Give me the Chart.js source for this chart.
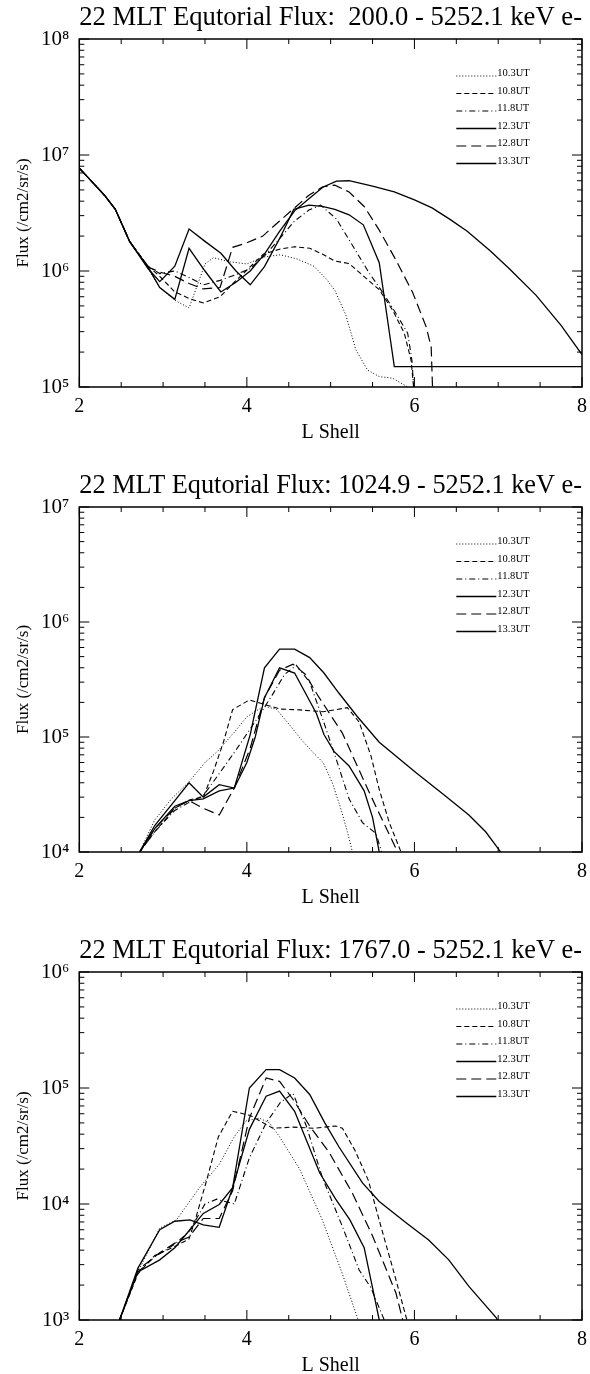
<!DOCTYPE html>
<html>
<head>
<meta charset="utf-8">
<script src="https://cdn.jsdelivr.net/npm/chart.js@4.4.1/dist/chart.umd.min.js"></script>
<style>
  html, body { margin: 0; padding: 0; background: #fff; overflow: hidden; }
  canvas { position: absolute; left: 0; }
</style>
</head>
<body>
<canvas id="c1" width="590" height="445" style="top:0px"></canvas>
<canvas id="c2" width="590" height="442" style="top:468px"></canvas>
<canvas id="c3" width="590" height="445" style="top:933px"></canvas>
<script>
// series labels (UT of each pass)
const seriesNames = ['10.3UT', '10.8UT', '11.8UT', '12.3UT', '12.8UT', '13.3UT'];

// tick labels
const xTickValues = [2, 4, 6, 8];
const p1YTicks = [1e5, 1e6, 1e7, 1e8];
const p2YTicks = [1e4, 1e5, 1e6, 1e7];
const p3YTicks = [1e3, 1e4, 1e5, 1e6];

// panel 1: 200.0 - 5252.1 keV, [L, flux]
const p1_103 = [[2.0,7.7e6],[2.15,5.9e6],[2.3,4.5e6],[2.43,3.4e6],[2.6,1.8e6],[2.82,1.05e6],[2.96,7.2e5],[3.14,5.6e5],[3.31,4.8e5],[3.5,1.15e6],[3.6,1.3e6],[3.8,1.2e6],[4.0,1.15e6],[4.2,1.32e6],[4.4,1.38e6],[4.6,1.27e6],[4.8,1.1e6],[4.95,8.5e5],[5.05,6.8e5],[5.18,4.2e5],[5.3,2.1e5],[5.44,1.4e5],[5.58,1.23e5],[5.74,1.19e5],[5.9,1.02e5],[6.0,9e4]];
const p1_108 = [[2.0,7.7e6],[2.15,5.9e6],[2.3,4.5e6],[2.43,3.4e6],[2.6,1.8e6],[2.82,1.1e6],[2.96,9.0e5],[3.14,6.6e5],[3.31,5.8e5],[3.48,5.3e5],[3.68,6.0e5],[3.85,8.0e5],[4.0,1.02e6],[4.2,1.4e6],[4.4,1.55e6],[4.57,1.62e6],[4.75,1.57e6],[4.9,1.4e6],[5.05,1.22e6],[5.22,1.16e6],[5.38,9.2e5],[5.58,6.9e5],[5.74,4.6e5],[5.88,2.9e5],[5.96,1.7e5],[5.99,1.0e5],[6.0,8e4]];
const p1_118 = [[2.0,7.7e6],[2.15,5.9e6],[2.3,4.5e6],[2.43,3.4e6],[2.6,1.8e6],[2.82,1.1e6],[2.96,9.5e5],[3.14,1.0e6],[3.31,8.8e5],[3.48,7.6e5],[3.68,8.3e5],[3.87,9.3e5],[4.04,1.05e6],[4.21,1.35e6],[4.39,1.9e6],[4.57,2.7e6],[4.74,3.35e6],[4.88,3.7e6],[5.07,2.8e6],[5.27,1.62e6],[5.46,9.6e5],[5.63,6.4e5],[5.78,4.3e5],[5.92,2.9e5],[5.97,1.7e5],[6.0,8e4]];
const p1_123 = [[2.0,7.7e6],[2.15,5.9e6],[2.3,4.5e6],[2.43,3.4e6],[2.6,1.8e6],[2.82,1.05e6],[2.96,8.1e5],[3.14,1.1e6],[3.31,2.3e6],[3.5,1.8e6],[3.69,1.42e6],[3.87,1.0e6],[4.04,7.6e5],[4.21,1.09e6],[4.39,1.9e6],[4.56,3.4e6],[4.74,3.7e6],[4.9,3.6e6],[5.05,3.4e6],[5.22,3.05e6],[5.39,2.5e6],[5.58,1.18e6],[5.76,1.5e5],[8.0,1.5e5]];
const p1_128 = [[2.0,7.7e6],[2.15,5.9e6],[2.3,4.5e6],[2.43,3.4e6],[2.6,1.8e6],[2.82,1.08e6],[2.96,9.8e5],[3.14,9.0e5],[3.31,7.8e5],[3.48,7.0e5],[3.68,7.2e5],[3.83,1.6e6],[4.0,1.75e6],[4.19,2.0e6],[4.39,2.7e6],[4.57,3.5e6],[4.74,4.5e6],[4.9,5.3e6],[5.05,5.5e6],[5.22,4.8e6],[5.4,3.6e6],[5.58,2.25e6],[5.78,1.24e6],[5.98,6.5e5],[6.14,3.3e5],[6.2,2.2e5],[6.22,8e4]];
const p1_133 = [[2.0,7.7e6],[2.15,5.9e6],[2.3,4.5e6],[2.43,3.4e6],[2.6,1.8e6],[2.82,1.08e6],[2.96,7.2e5],[3.14,5.7e5],[3.31,1.57e6],[3.5,1.0e6],[3.69,6.6e5],[3.87,8.0e5],[4.04,1.0e6],[4.21,1.4e6],[4.39,2.2e6],[4.57,3.3e6],[4.74,4.2e6],[4.91,5.3e6],[5.07,5.95e6],[5.22,6.0e6],[5.5,5.4e6],[5.76,4.8e6],[6.0,4.1e6],[6.21,3.5e6],[6.42,2.8e6],[6.63,2.2e6],[6.9,1.5e6],[7.13,1.05e6],[7.45,6.2e5],[7.75,3.4e5],[8.0,1.9e5]];

// panel 2: 1024.9 - 5252.1 keV
const p2_103 = [[2.72,1.0e4],[2.9,1.9e4],[3.1,2.9e4],[3.3,4.0e4],[3.5,6.0e4],[3.65,7.5e4],[3.85,1.1e5],[4.0,1.5e5],[4.2,1.85e5],[4.35,1.75e5],[4.5,1.3e5],[4.65,9.5e4],[4.8,7.2e4],[4.91,6.0e4],[5.02,4.0e4],[5.12,2.4e4],[5.2,1.5e4],[5.26,1.0e4],[5.3,8e3]];
const p2_108 = [[2.72,1.0e4],[2.9,1.5e4],[3.14,2.4e4],[3.32,2.85e4],[3.48,3.0e4],[3.6,5.0e4],[3.72,9.0e4],[3.83,1.73e5],[4.03,2.1e5],[4.23,1.9e5],[4.4,1.75e5],[4.63,1.72e5],[4.91,1.66e5],[5.05,1.72e5],[5.2,1.8e5],[5.34,1.35e5],[5.48,6.9e4],[5.58,3.5e4],[5.7,1.8e4],[5.84,1.0e4],[5.88,8e3]];
const p2_118 = [[2.72,1.0e4],[2.9,1.5e4],[3.14,2.3e4],[3.31,2.7e4],[3.48,3.1e4],[3.67,4.8e4],[3.87,7.7e4],[4.11,1.4e5],[4.3,2.3e5],[4.45,3.5e5],[4.59,4.2e5],[4.75,3.0e5],[4.91,1.4e5],[5.07,6.3e4],[5.22,2.9e4],[5.38,1.8e4],[5.54,1.45e4],[5.6,1.05e4],[5.63,8e3]];
const p2_123 = [[2.72,1.0e4],[2.9,1.6e4],[3.14,2.5e4],[3.31,2.8e4],[3.48,2.9e4],[3.67,3.4e4],[3.85,3.6e4],[4.0,6.0e4],[4.1,1.0e5],[4.21,2.2e5],[4.39,4.0e5],[4.57,3.6e5],[4.83,1.6e5],[4.92,1.05e5],[5.04,7.5e4],[5.22,5.6e4],[5.4,3.4e4],[5.5,2.0e4],[5.58,1.0e4],[5.6,8e3]];
const p2_128 = [[2.72,1.0e4],[2.9,1.6e4],[3.14,2.4e4],[3.31,2.8e4],[3.48,2.4e4],[3.67,2.1e4],[3.85,3.6e4],[4.04,8.0e4],[4.21,2.2e5],[4.39,3.8e5],[4.55,4.3e5],[4.7,3.5e5],[4.83,2.4e5],[5.14,1.08e5],[5.46,3.3e4],[5.8,1.0e4],[5.84,8e3]];
const p2_133 = [[2.72,1.0e4],[2.9,1.7e4],[3.14,2.8e4],[3.31,4.0e4],[3.48,3.0e4],[3.67,3.85e4],[3.85,3.6e4],[4.04,1.05e5],[4.21,4.0e5],[4.39,5.8e5],[4.57,5.8e5],[4.75,4.9e5],[4.92,3.6e5],[5.1,2.4e5],[5.32,1.5e5],[5.58,9.0e4],[6.02,4.9e4],[6.34,3.2e4],[6.65,2.1e4],[6.85,1.5e4],[7.03,1.0e4],[7.06,9e3]];

// panel 3: 1767.0 - 5252.1 keV
const p3_103 = [[2.48,1.0e3],[2.7,2.6e3],[2.96,6.2e3],[3.16,7.3e3],[3.44,1.4e4],[3.67,2.2e4],[3.85,3.8e4],[3.99,5.2e4],[4.15,5.5e4],[4.27,5.0e4],[4.39,3.8e4],[4.63,2.0e4],[4.9,7.3e3],[5.14,2.5e3],[5.3,1.15e3],[5.35,9e2]];
const p3_108 = [[2.48,1.0e3],[2.7,2.5e3],[2.9,3.6e3],[3.14,4.3e3],[3.31,5.0e3],[3.4,8.0e3],[3.52,1.6e4],[3.66,3.8e4],[3.83,6.3e4],[4.04,5.8e4],[4.31,4.5e4],[4.55,4.6e4],[4.8,4.5e4],[5.06,4.7e4],[5.14,4.5e4],[5.29,2.9e4],[5.45,1.6e4],[5.6,6.4e3],[5.76,2.5e3],[5.91,1.0e3],[5.93,9e2]];
const p3_118 = [[2.48,1.0e3],[2.7,2.6e3],[2.9,3.5e3],[3.14,4.5e3],[3.31,5.8e3],[3.5,1.0e4],[3.64,1.1e4],[3.85,1.0e4],[4.03,2.5e4],[4.23,5.0e4],[4.4,7.5e4],[4.55,9.0e4],[4.71,4.7e4],[4.9,1.7e4],[5.14,6.4e3],[5.34,2.7e3],[5.48,1.9e3],[5.64,1.0e3],[5.66,9e2]];
const p3_123 = [[2.48,1.0e3],[2.7,2.6e3],[2.96,3.3e3],[3.14,4.2e3],[3.32,6.0e3],[3.48,8.3e3],[3.67,9.9e3],[3.83,1.38e4],[4.03,4.4e4],[4.23,8.5e4],[4.39,9.4e4],[4.57,6.3e4],[4.87,1.85e4],[5.06,1.1e4],[5.23,7.3e3],[5.4,4.2e3],[5.58,1.0e3],[5.6,9e2]];
const p3_128 = [[2.48,1.0e3],[2.7,2.7e3],[2.96,3.8e3],[3.14,4.6e3],[3.31,5.2e3],[3.48,7.5e3],[3.67,7.5e3],[3.83,1.3e4],[4.03,5.5e4],[4.23,1.22e5],[4.39,1.14e5],[4.55,8.0e4],[4.75,4.7e4],[4.98,2.8e4],[5.26,1.24e4],[5.5,5.3e3],[5.78,1.7e3],[5.86,1.0e3],[5.88,9e2]];
const p3_133 = [[2.48,1.0e3],[2.7,2.8e3],[2.96,6.0e3],[3.14,7.1e3],[3.32,7.3e3],[3.48,6.6e3],[3.67,6.3e3],[3.83,1.38e4],[4.03,1.0e5],[4.23,1.44e5],[4.39,1.44e5],[4.57,1.22e5],[4.75,8.8e4],[4.93,5.0e4],[5.1,3.1e4],[5.38,1.52e4],[5.58,1.05e4],[5.9,6.9e3],[6.17,4.9e3],[6.41,3.3e3],[6.65,1.95e3],[6.98,1.04e3],[7.0,9.5e2]];

// line styles, same order as seriesNames
const dashes = [[1, 2], [5, 3], [6, 3, 1, 3], [], [10, 5], []];
const widths = [1, 1.1, 1.1, 1.3, 1.2, 1.3];
const SERIF = "'Liberation Serif', 'Times New Roman', serif";
const SUP = '⁰¹²³⁴⁵⁶⁷⁸⁹';

function sup(n) {
  return String(n).split('').map(d => SUP[+d]).join('');
}

// frame with inward ticks on all four sides + legend inside the plot
const frame = {
  id: 'frame',
  afterDatasetsDraw(chart) {
    const { ctx, chartArea: a, scales: { x, y } } = chart;
    ctx.save();
    ctx.strokeStyle = '#000';
    ctx.setLineDash([]);
    ctx.lineWidth = 1.5;
    ctx.strokeRect(a.left, a.top, a.right - a.left, a.bottom - a.top);
    ctx.lineWidth = 1;
    ctx.beginPath();
    for (let v = x.min; v <= x.max + 1e-6; v += 0.5) {
      const px = x.getPixelForValue(v);
      const len = (Math.round(v * 2) % 4 === 0) ? 10 : 5;
      ctx.moveTo(px, a.bottom); ctx.lineTo(px, a.bottom - len);
      ctx.moveTo(px, a.top); ctx.lineTo(px, a.top + len);
    }
    for (let e = Math.round(Math.log10(y.min)); e < Math.round(Math.log10(y.max)) + 1; e++) {
      for (let m = 1; m <= 9; m++) {
        const v = m * Math.pow(10, e);
        if (v > y.max * 1.001) break;
        const py = y.getPixelForValue(v);
        const len = m === 1 ? 10 : 5;
        ctx.moveTo(a.left, py); ctx.lineTo(a.left + len, py);
        ctx.moveTo(a.right, py); ctx.lineTo(a.right - len, py);
      }
    }
    ctx.stroke();

    ctx.font = '10.5px ' + SERIF;
    ctx.fillStyle = '#000';
    ctx.textAlign = 'left';
    ctx.textBaseline = 'alphabetic';
    chart.data.datasets.forEach((ds, i) => {
      const yy = a.top + 37 + i * 17.5;
      ctx.lineWidth = ds.borderWidth;
      ctx.setLineDash(ds.borderDash);
      ctx.beginPath();
      ctx.moveTo(a.left + 377, yy);
      ctx.lineTo(a.left + 417, yy);
      ctx.stroke();
      ctx.fillText(ds.label, a.left + 418, yy);
    });
    ctx.restore();
  }
};

function makeChart(id, title, yTicks, series) {
  return new Chart(document.getElementById(id), {
    type: 'line',
    data: {
      datasets: series.map((pts, i) => ({
        label: seriesNames[i],
        data: pts.map(p => ({ x: p[0], y: p[1] })),
        borderColor: '#000',
        borderWidth: widths[i],
        borderDash: dashes[i],
        pointRadius: 0,
        tension: 0,
        fill: false
      }))
    },
    options: {
      responsive: false,
      animation: false,
      devicePixelRatio: 1,
      events: [],
      layout: { padding: { left: 0, right: 8, top: 0, bottom: 0 } },
      plugins: {
        legend: { display: false },
        tooltip: { enabled: false },
        title: {
          display: true,
          text: title,
          color: '#000',
          fullSize: false,
          font: { family: SERIF, size: 27, weight: 'normal', lineHeight: 1.2 },
          padding: { top: 2, bottom: 4.6 }
        }
      },
      scales: {
        x: {
          type: 'linear',
          min: 2,
          max: 8,
          grid: { display: false },
          border: { display: false },
          afterBuildTicks: s => { s.ticks = xTickValues.map(v => ({ value: v })); },
          afterFit: s => { s.height = 58; },
          ticks: {
            color: '#000',
            padding: 0,
            maxRotation: 0,
            font: { family: SERIF, size: 20, lineHeight: 1.2 },
            callback: v => String(v)
          },
          title: {
            display: true,
            text: 'L Shell',
            color: '#000',
            font: { family: SERIF, size: 20, lineHeight: 1 },
            padding: { top: 0, bottom: 2 }
          }
        },
        y: {
          type: 'logarithmic',
          min: yTicks[0],
          max: yTicks[yTicks.length - 1],
          grid: { display: false },
          border: { display: false },
          afterBuildTicks: s => { s.ticks = yTicks.map(v => ({ value: v })); },
          afterFit: s => { s.width = 79.3; },
          ticks: {
            color: '#000',
            padding: 2,
            font: { family: SERIF, size: 21 },
            callback: v => '10' + sup(Math.round(Math.log10(v)))
          },
          title: {
            display: true,
            text: 'Flux (/cm2/sr/s)',
            color: '#000',
            font: { family: SERIF, size: 17, lineHeight: 1.2 },
            padding: { top: 13, bottom: 0 }
          }
        }
      }
    },
    plugins: [frame]
  });
}

makeChart('c1', '22 MLT Equtorial Flux:  200.0 - 5252.1 keV e-', p1YTicks,
  [p1_103, p1_108, p1_118, p1_123, p1_128, p1_133]);
makeChart('c2', '22 MLT Equtorial Flux: 1024.9 - 5252.1 keV e-', p2YTicks,
  [p2_103, p2_108, p2_118, p2_123, p2_128, p2_133]);
makeChart('c3', '22 MLT Equtorial Flux: 1767.0 - 5252.1 keV e-', p3YTicks,
  [p3_103, p3_108, p3_118, p3_123, p3_128, p3_133]);
</script>
</body>
</html>
